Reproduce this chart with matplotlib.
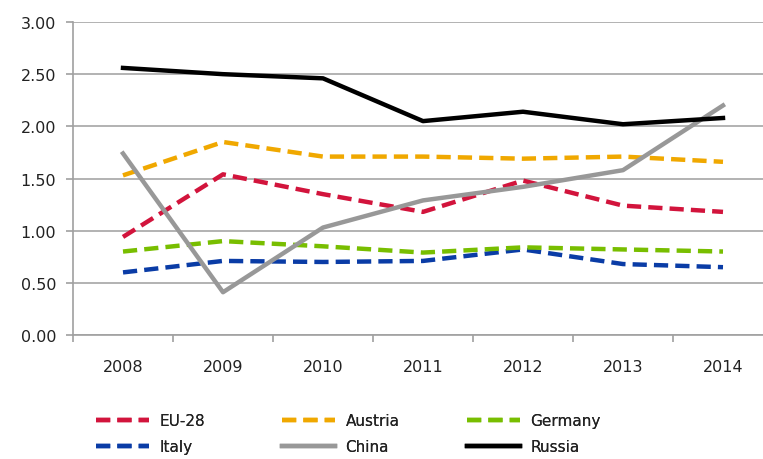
import matplotlib
matplotlib.use("Agg")
import matplotlib.pyplot as plt
from matplotlib.ticker import FixedLocator, FixedFormatter

years = ["2008", "2009", "2010", "2011", "2012", "2013", "2014"]
eu28 = [0.94, 1.54, 1.35, 1.18, 1.48, 1.24, 1.18]
austria = [1.53, 1.85, 1.71, 1.71, 1.69, 1.71, 1.66]
germany = [0.80, 0.90, 0.85, 0.79, 0.84, 0.82, 0.80]
italy = [0.60, 0.71, 0.70, 0.71, 0.82, 0.68, 0.65]
china = [1.74, 0.41, 1.03, 1.29, 1.42, 1.58, 2.20]
russia = [2.56, 2.50, 2.46, 2.05, 2.14, 2.02, 2.08]
yticks = [0.0, 0.5, 1.0, 1.5, 2.0, 2.5, 3.0]

plt.rcParams['font.family'] = ['DejaVu Sans']
fig = plt.figure(figsize=(7.63, 4.60), dpi=100)
ax = fig.add_axes([73/763, (460-336)/460, 700/763, 313/460])

x = list(range(len(years)))
dash = (3.2, 1.6)
lw = 3.2
h_eu = ax.plot(x, eu28, color='#D2143C', lw=lw, dashes=dash, label='EU-28', zorder=3)[0]
h_it = ax.plot(x, italy, color='#0A3CA6', lw=lw, dashes=dash, label='Italy', zorder=3)[0]
h_at = ax.plot(x, austria, color='#F0A800', lw=lw, dashes=dash, label='Austria', zorder=3)[0]
h_cn = ax.plot(x, china, color='#989898', lw=lw, label='China', zorder=4)[0]
h_de = ax.plot(x, germany, color='#78BE00', lw=lw, dashes=dash, label='Germany', zorder=3)[0]
h_ru = ax.plot(x, russia, color='#000000', lw=lw, label='Russia', zorder=5)[0]

ax.set_xlim(-0.5, len(years) - 0.5)
ax.set_ylim(0, 3.0)
ax.set_yticks(yticks)
ax.set_yticklabels([f"{v:.2f}" for v in yticks])
ax.xaxis.set_major_locator(FixedLocator([i - 0.5 for i in range(len(years) + 1)]))
ax.xaxis.set_major_formatter(FixedFormatter([""] * (len(years) + 1)))
ax.xaxis.set_minor_locator(FixedLocator(x))
ax.xaxis.set_minor_formatter(FixedFormatter(years))
ax.tick_params(axis='x', which='major', length=5, color='#A0A0A0', width=1.2)
ax.tick_params(axis='x', which='minor', length=0, pad=17, labelsize=11.5, labelcolor='#222222')
ax.tick_params(axis='y', length=5, color='#A0A0A0', width=1.2, pad=7, labelsize=11.5, labelcolor='#222222')
ax.grid(axis='y', color='#A6A6A6', lw=1.2, zorder=0)
ax.set_axisbelow(True)
for s in ['top', 'right']:
    ax.spines[s].set_visible(False)
for s in ['left', 'bottom']:
    ax.spines[s].set_color('#A0A0A0')
    ax.spines[s].set_linewidth(1.2)

cols = [((h_eu, h_it), 96), ((h_at, h_cn), 282), ((h_de, h_ru), 467)]
for handles, xpos in cols:
    leg = fig.legend(handles=list(handles), loc='upper left',
                     bbox_to_anchor=(xpos/763, 1 - 414/460), ncol=1,
                     frameon=False, fontsize=11, handlelength=3.5, handletextpad=0.65,
                     labelspacing=0.72, borderpad=0, borderaxespad=0)
    for t in leg.get_texts():
        t.set_color('#222222')
    fig.add_artist(leg)

fig.savefig("out.png", dpi=100)
